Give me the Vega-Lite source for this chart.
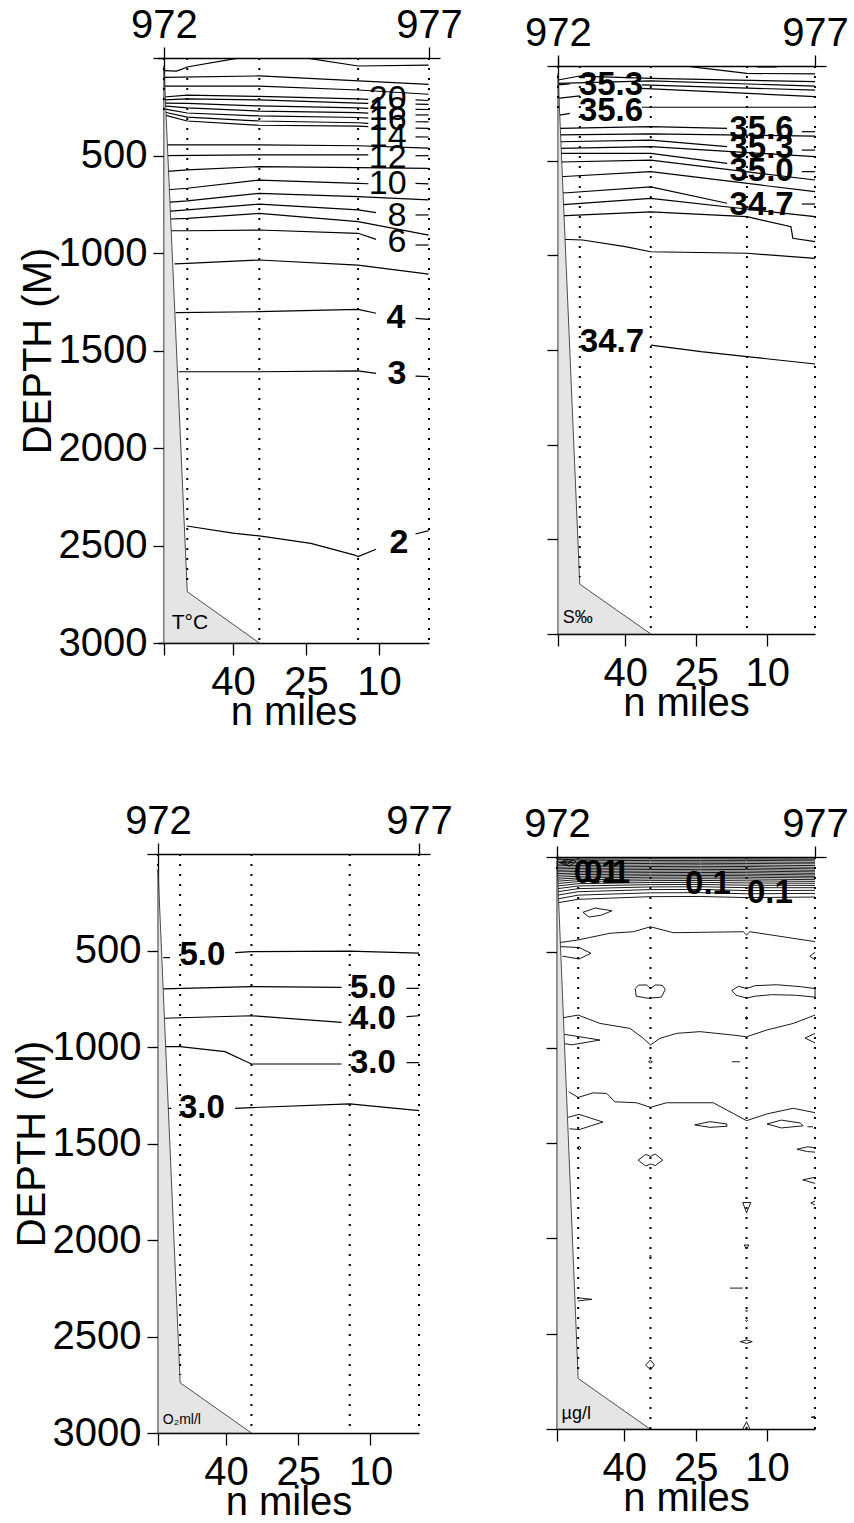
{
"$schema": "https://vega.github.io/schema/vega-lite/v6.json",
"autosize": {"type": "none"},
"padding": {"left": 158, "top": 58, "right": 696, "bottom": 1465},
"columns": 2,
"bounds": "flush",
"align": "each",
"spacing": {"row": 211, "column": 128},
"config": {
 "view": {"stroke": null},
 "font": "Liberation Sans",
 "axis": {"labelFont": "Liberation Sans", "labelFontSize": 40, "labelColor": "#000", "titleFont": "Liberation Sans", "titleFontSize": 40, "titleFontWeight": "normal", "titleColor": "#000", "tickColor": "#000", "tickSize": 11, "tickWidth": 1.3, "domainColor": "#000", "domainWidth": 1.3, "grid": false, "labelFlush": false, "labelOverlap": false, "zindex": 1},
 "text": {"font": "Liberation Sans", "fill": "#000"}
},
"datasets": {
"bt": [
{"p":"T","z":40,"l":54.2,"r":54.2},{"p":"T","z":2737,"l":54.2,"r":49.4},{"p":"T","z":3000,"l":54.2,"r":34.6},
{"p":"S","z":40,"l":54.2,"r":54.2},{"p":"S","z":2737,"l":54.2,"r":49.6},{"p":"S","z":3000,"l":54.2,"r":34.6},
{"p":"O","z":80,"l":54.1,"r":54.1},{"p":"O","z":2740,"l":54.1,"r":49.5},{"p":"O","z":3000,"l":54.1,"r":34.7},
{"p":"C","z":20,"l":54.15,"r":54.15},{"p":"C","z":2735,"l":54.15,"r":49.7},{"p":"C","z":3000,"l":54.15,"r":34.6}
],
"st": [
{"p":"T","d":54.2,"a":0,"b":300},{"p":"T","d":49.4,"a":0,"b":2700},{"p":"T","d":34.6,"a":0,"b":3000},{"p":"T","d":14.3,"a":0,"b":3000},{"p":"T","d":-0.27,"a":0,"b":3000},
{"p":"S","d":54.2,"a":0,"b":250},{"p":"S","d":49.6,"a":0,"b":2700},{"p":"S","d":34.6,"a":0,"b":3000},{"p":"S","d":14.3,"a":0,"b":3000},{"p":"S","d":-0.08,"a":0,"b":3000},
{"p":"O","d":54.1,"a":0,"b":80},{"p":"O","d":49.5,"a":0,"b":2700},{"p":"O","d":34.7,"a":0,"b":3000},{"p":"O","d":14.3,"a":0,"b":3000},{"p":"O","d":-0.08,"a":0,"b":3000},
{"p":"C","d":54.15,"a":0,"b":100},{"p":"C","d":49.7,"a":0,"b":2700},{"p":"C","d":34.5,"a":0,"b":3000},{"p":"C","d":14.3,"a":0,"b":3000},{"p":"C","d":-0.09,"a":0,"b":3000}
],
"tg": [
{"p":"T","t":"T°C","d":52.6,"z":2897},{"p":"S","t":"S‰","d":53.2,"z":2913},{"p":"O","t":"O₂ml/l","d":53.1,"z":2932},{"p":"C","t":"µg/l","d":53.2,"z":2921}
],
"lb": [
{"p":"T","t":"20","d":8.2,"z":210},{"p":"T","t":"18","d":8.2,"z":267},{"p":"T","t":"16","d":8.2,"z":318},{"p":"T","t":"14","d":8.2,"z":405},{"p":"T","t":"12","d":8.2,"z":513},{"p":"T","t":"10","d":8.2,"z":646},{"p":"T","t":"8","d":6.3,"z":810},{"p":"T","t":"6","d":6.3,"z":944},{"p":"T","t":"4","d":6.5,"z":1331},{"p":"T","t":"3","d":6.3,"z":1623},{"p":"T","t":"2","d":5.9,"z":2487},
{"p":"S","t":"35.3","d":43.0,"z":100},{"p":"S","t":"35.6","d":43.0,"z":238},{"p":"S","t":"35.6","d":11.2,"z":333},{"p":"S","t":"35.3","d":11.2,"z":433},{"p":"S","t":"35.0","d":11.2,"z":555},{"p":"S","t":"34.7","d":11.2,"z":734},{"p":"S","t":"34.7","d":42.8,"z":1460},
{"p":"O","t":"5.0","d":44.9,"z":523},{"p":"O","t":"5.0","d":9.5,"z":694},{"p":"O","t":"4.0","d":9.5,"z":855},{"p":"O","t":"3.0","d":9.5,"z":1083},{"p":"O","t":"3.0","d":45.0,"z":1316},
{"p":"C","t":"0.1","d":45.8,"z":86},{"p":"C","t":"0.1","d":43.6,"z":86},{"p":"C","t":"0.1","d":22.4,"z":142},{"p":"C","t":"0.1","d":9.4,"z":189}
],
"lines": [
{"p":"T","id":"a","d":54.2,"z":65},{"p":"T","id":"a","d":51.6,"z":67},{"p":"T","id":"a","d":49.2,"z":45},{"p":"T","id":"a","d":39.2,"z":2},
{"p":"T","id":"b","d":24.5,"z":2},{"p":"T","id":"b","d":14.3,"z":41},{"p":"T","id":"b","d":-0.2,"z":37},
{"p":"T","id":"c","d":54.2,"z":99},{"p":"T","id":"c","d":34.6,"z":92},{"p":"T","id":"c","d":-0.2,"z":135},
{"p":"T","id":"e","d":54.2,"z":144},{"p":"T","id":"e","d":34.6,"z":144},{"p":"T","id":"e","d":14.3,"z":164},{"p":"T","id":"e","d":-0.2,"z":186},
{"p":"T","id":"f1","d":54.2,"z":200},{"p":"T","id":"f1","d":49.4,"z":190},{"p":"T","id":"f1","d":34.6,"z":197},{"p":"T","id":"f1","d":14.3,"z":210},{"p":"T","id":"f1","d":12.2,"z":212},
{"p":"T","id":"f2","d":2.5,"z":215},{"p":"T","id":"f2","d":-0.2,"z":218},
{"p":"T","id":"g1","d":54.2,"z":215},{"p":"T","id":"g1","d":49.4,"z":210},{"p":"T","id":"g1","d":34.6,"z":215},{"p":"T","id":"g1","d":14.3,"z":231},{"p":"T","id":"g1","d":12.2,"z":233},
{"p":"T","id":"g2","d":2.5,"z":237},{"p":"T","id":"g2","d":-0.2,"z":238},
{"p":"T","id":"h1","d":54.2,"z":231},{"p":"T","id":"h1","d":49.4,"z":233},{"p":"T","id":"h1","d":34.6,"z":246},{"p":"T","id":"h1","d":14.3,"z":256},{"p":"T","id":"h1","d":12.2,"z":258},
{"p":"T","id":"h2","d":2.5,"z":263},{"p":"T","id":"h2","d":-0.2,"z":264},
{"p":"T","id":"i1","d":54.2,"z":246},{"p":"T","id":"i1","d":49.4,"z":256},{"p":"T","id":"i1","d":34.6,"z":272},{"p":"T","id":"i1","d":14.3,"z":280},{"p":"T","id":"i1","d":12.2,"z":283},
{"p":"T","id":"i2","d":2.5,"z":292},{"p":"T","id":"i2","d":-0.2,"z":292},
{"p":"T","id":"j1","d":54.2,"z":261},{"p":"T","id":"j1","d":49.4,"z":282},{"p":"T","id":"j1","d":34.6,"z":297},{"p":"T","id":"j1","d":14.3,"z":305},{"p":"T","id":"j1","d":12.2,"z":308},
{"p":"T","id":"j2","d":2.5,"z":327},{"p":"T","id":"j2","d":-0.2,"z":328},
{"p":"T","id":"k1","d":54.2,"z":277},{"p":"T","id":"k1","d":49.4,"z":303},{"p":"T","id":"k1","d":34.6,"z":323},{"p":"T","id":"k1","d":14.3,"z":332},{"p":"T","id":"k1","d":12.2,"z":335},
{"p":"T","id":"k2","d":2.5,"z":360},{"p":"T","id":"k2","d":-0.2,"z":361},
{"p":"T","id":"l1","d":54.2,"z":292},{"p":"T","id":"l1","d":49.4,"z":323},{"p":"T","id":"l1","d":34.6,"z":345},{"p":"T","id":"l1","d":14.3,"z":349},{"p":"T","id":"l1","d":12.2,"z":352},
{"p":"T","id":"l2","d":2.5,"z":404},{"p":"T","id":"l2","d":-0.2,"z":405},
{"p":"T","id":"m","d":54.2,"z":446},{"p":"T","id":"m","d":34.6,"z":446},{"p":"T","id":"m","d":14.3,"z":450},{"p":"T","id":"m","d":-0.2,"z":462},
{"p":"T","id":"n1","d":54.2,"z":501},{"p":"T","id":"n1","d":34.6,"z":497},{"p":"T","id":"n1","d":14.3,"z":497},{"p":"T","id":"n1","d":12.2,"z":497},
{"p":"T","id":"n2","d":2.5,"z":501},{"p":"T","id":"n2","d":-0.2,"z":501},
{"p":"T","id":"q","d":54.2,"z":583},{"p":"T","id":"q","d":49.4,"z":574},{"p":"T","id":"q","d":34.6,"z":557},{"p":"T","id":"q","d":14.3,"z":562},{"p":"T","id":"q","d":-0.2,"z":566},
{"p":"T","id":"r1","d":54.2,"z":677},{"p":"T","id":"r1","d":49.4,"z":668},{"p":"T","id":"r1","d":34.6,"z":626},{"p":"T","id":"r1","d":14.3,"z":643},{"p":"T","id":"r1","d":12.2,"z":645},
{"p":"T","id":"r2","d":2.5,"z":643},{"p":"T","id":"r2","d":-0.2,"z":646},
{"p":"T","id":"s","d":54.2,"z":742},{"p":"T","id":"s","d":49.4,"z":733},{"p":"T","id":"s","d":34.6,"z":694},{"p":"T","id":"s","d":14.3,"z":711},{"p":"T","id":"s","d":-0.2,"z":728},
{"p":"T","id":"u1","d":54.2,"z":788},{"p":"T","id":"u1","d":49.4,"z":779},{"p":"T","id":"u1","d":34.6,"z":749},{"p":"T","id":"u1","d":14.3,"z":779},{"p":"T","id":"u1","d":10.6,"z":793},
{"p":"T","id":"u2","d":2.5,"z":805},{"p":"T","id":"u2","d":-0.2,"z":805},
{"p":"T","id":"v","d":54.2,"z":827},{"p":"T","id":"v","d":49.4,"z":822},{"p":"T","id":"v","d":34.6,"z":797},{"p":"T","id":"v","d":14.3,"z":839},{"p":"T","id":"v","d":-0.2,"z":908},
{"p":"T","id":"w1","d":53.5,"z":886},{"p":"T","id":"w1","d":49.4,"z":886},{"p":"T","id":"w1","d":34.6,"z":882},{"p":"T","id":"w1","d":14.3,"z":899},{"p":"T","id":"w1","d":10.6,"z":930},
{"p":"T","id":"w2","d":2.5,"z":959},{"p":"T","id":"w2","d":-0.2,"z":959},
{"p":"T","id":"x","d":52.0,"z":1056},{"p":"T","id":"x","d":49.4,"z":1053},{"p":"T","id":"x","d":34.6,"z":1036},{"p":"T","id":"x","d":14.3,"z":1062},{"p":"T","id":"x","d":-0.2,"z":1108},
{"p":"T","id":"y1","d":51.8,"z":1306},{"p":"T","id":"y1","d":34.6,"z":1301},{"p":"T","id":"y1","d":14.3,"z":1289},{"p":"T","id":"y1","d":10.6,"z":1309},
{"p":"T","id":"y2","d":2.5,"z":1335},{"p":"T","id":"y2","d":-0.2,"z":1340},
{"p":"T","id":"z1","d":51.2,"z":1609},{"p":"T","id":"z1","d":34.6,"z":1609},{"p":"T","id":"z1","d":14.3,"z":1605},{"p":"T","id":"z1","d":10.6,"z":1617},
{"p":"T","id":"z2","d":2.5,"z":1631},{"p":"T","id":"z2","d":-0.2,"z":1634},
{"p":"T","id":"aa1","d":49.5,"z":2400},{"p":"T","id":"aa1","d":40,"z":2437},{"p":"T","id":"aa1","d":34.6,"z":2451},{"p":"T","id":"aa1","d":24,"z":2489},{"p":"T","id":"aa1","d":15,"z":2549},{"p":"T","id":"aa1","d":14.3,"z":2557},{"p":"T","id":"aa1","d":10.6,"z":2519},
{"p":"T","id":"aa2","d":2.5,"z":2441},{"p":"T","id":"aa2","d":-0.2,"z":2424},

{"p":"S","id":"sa","d":26.3,"z":3},{"p":"S","id":"sa","d":14.3,"z":39},{"p":"S","id":"sa","d":-0.1,"z":42},
{"p":"S","id":"sb","d":12.2,"z":5},{"p":"S","id":"sb","d":8.0,"z":5},
{"p":"S","id":"sc","d":54.2,"z":74},{"p":"S","id":"sc","d":49.6,"z":53},{"p":"S","id":"sc","d":34.6,"z":65},{"p":"S","id":"sc","d":-0.1,"z":83},
{"p":"S","id":"sd","d":54.2,"z":92},{"p":"S","id":"sd","d":34.6,"z":79},{"p":"S","id":"sd","d":-0.1,"z":106},
{"p":"S","id":"se1","d":54.2,"z":100},{"p":"S","id":"se1","d":51.7,"z":95},
{"p":"S","id":"se2","d":36.5,"z":100},{"p":"S","id":"se2","d":-0.1,"z":127},
{"p":"S","id":"sf1","d":54.2,"z":171},{"p":"S","id":"sf1","d":49.6,"z":158},
{"p":"S","id":"sf2","d":36.5,"z":118},{"p":"S","id":"sf2","d":-0.1,"z":162},
{"p":"S","id":"sg1","d":53.8,"z":259},{"p":"S","id":"sg1","d":51.7,"z":250},
{"p":"S","id":"sg2","d":36.5,"z":218},{"p":"S","id":"sg2","d":-0.1,"z":218},
{"p":"S","id":"sh1","d":53.8,"z":329},{"p":"S","id":"sh1","d":34.6,"z":320},{"p":"S","id":"sh1","d":18.5,"z":329},
{"p":"S","id":"sh2","d":2.7,"z":347},{"p":"S","id":"sh2","d":-0.1,"z":347},
{"p":"S","id":"si","d":53.8,"z":364},{"p":"S","id":"si","d":34.6,"z":359},{"p":"S","id":"si","d":-0.1,"z":370},
{"p":"S","id":"sj1","d":53.8,"z":400},{"p":"S","id":"sj1","d":34.6,"z":391},{"p":"S","id":"sj1","d":18.5,"z":426},
{"p":"S","id":"sj2","d":2.7,"z":444},{"p":"S","id":"sj2","d":-0.1,"z":444},
{"p":"S","id":"sk","d":53.8,"z":435},{"p":"S","id":"sk","d":34.6,"z":426},{"p":"S","id":"sk","d":-0.1,"z":479},
{"p":"S","id":"sl1","d":53.8,"z":461},{"p":"S","id":"sl1","d":34.6,"z":461},{"p":"S","id":"sl1","d":18.5,"z":514},
{"p":"S","id":"sl2","d":2.7,"z":558},{"p":"S","id":"sl2","d":-0.1,"z":558},
{"p":"S","id":"sm","d":53.8,"z":507},{"p":"S","id":"sm","d":34.6,"z":497},{"p":"S","id":"sm","d":-0.1,"z":602},
{"p":"S","id":"sn","d":53.8,"z":585},{"p":"S","id":"sn","d":34.6,"z":558},{"p":"S","id":"sn","d":-0.1,"z":664},
{"p":"S","id":"so1","d":53.8,"z":672},{"p":"S","id":"so1","d":34.6,"z":638},{"p":"S","id":"so1","d":18.5,"z":725},
{"p":"S","id":"so2","d":2.7,"z":729},{"p":"S","id":"so2","d":-0.1,"z":729},
{"p":"S","id":"sq","d":53.8,"z":734},{"p":"S","id":"sq","d":34.6,"z":699},{"p":"S","id":"sq","d":-0.1,"z":796},
{"p":"S","id":"sr","d":53.8,"z":792},{"p":"S","id":"sr","d":34.6,"z":770},{"p":"S","id":"sr","d":14.3,"z":796},{"p":"S","id":"sr","d":5.0,"z":849},{"p":"S","id":"sr","d":4.6,"z":910},{"p":"S","id":"sr","d":-0.1,"z":928},
{"p":"S","id":"ss","d":53.8,"z":915},{"p":"S","id":"ss","d":49.0,"z":919},{"p":"S","id":"ss","d":40.0,"z":954},{"p":"S","id":"ss","d":34.6,"z":981},{"p":"S","id":"ss","d":14.3,"z":989},{"p":"S","id":"ss","d":-0.1,"z":1016},
{"p":"S","id":"st","d":34.6,"z":1474},{"p":"S","id":"st","d":24,"z":1509},{"p":"S","id":"st","d":14.3,"z":1535},{"p":"S","id":"st","d":-0.1,"z":1574},

{"p":"O","id":"o5t","d":53.0,"z":537},{"p":"O","id":"o5t","d":51.6,"z":537},
{"p":"O","id":"o5a","d":38.1,"z":511},{"p":"O","id":"o5a","d":34.7,"z":506},{"p":"O","id":"o5a","d":14.3,"z":503},{"p":"O","id":"o5a","d":-0.1,"z":514},
{"p":"O","id":"o5b1","d":53.0,"z":699},{"p":"O","id":"o5b1","d":34.7,"z":687},{"p":"O","id":"o5b1","d":16.0,"z":691},
{"p":"O","id":"o5b2","d":2.5,"z":696},{"p":"O","id":"o5b2","d":-0.1,"z":696},
{"p":"O","id":"o41","d":52.9,"z":851},{"p":"O","id":"o41","d":34.7,"z":838},{"p":"O","id":"o41","d":16.0,"z":872},
{"p":"O","id":"o42","d":2.5,"z":843},{"p":"O","id":"o42","d":-0.1,"z":838},
{"p":"O","id":"o3a1","d":52.6,"z":998},{"p":"O","id":"o3a1","d":49.5,"z":998},{"p":"O","id":"o3a1","d":40.2,"z":1024},{"p":"O","id":"o3a1","d":34.7,"z":1088},{"p":"O","id":"o3a1","d":33.6,"z":1088},{"p":"O","id":"o3a1","d":16.0,"z":1088},
{"p":"O","id":"o3a2","d":2.5,"z":1081},{"p":"O","id":"o3a2","d":-0.1,"z":1081},
{"p":"O","id":"o3t","d":52.3,"z":1318},{"p":"O","id":"o3t","d":51.3,"z":1318},
{"p":"O","id":"o3b","d":38.1,"z":1318},{"p":"O","id":"o3b","d":34.7,"z":1314},{"p":"O","id":"o3b","d":14.3,"z":1295},{"p":"O","id":"o3b","d":-0.1,"z":1330},

{"p":"C","id":"b1","d":54.0,"z":6},{"p":"C","id":"b1","d":49.7,"z":5},{"p":"C","id":"b1","d":34.5,"z":4},{"p":"C","id":"b1","d":24,"z":4},{"p":"C","id":"b1","d":14.3,"z":5},{"p":"C","id":"b1","d":-0.1,"z":5},
{"p":"C","id":"b2","d":54.0,"z":14},{"p":"C","id":"b2","d":49.7,"z":12},{"p":"C","id":"b2","d":34.5,"z":10},{"p":"C","id":"b2","d":24,"z":10},{"p":"C","id":"b2","d":14.3,"z":11},{"p":"C","id":"b2","d":-0.1,"z":12},
{"p":"C","id":"b3","d":54.0,"z":22},{"p":"C","id":"b3","d":49.7,"z":20},{"p":"C","id":"b3","d":34.5,"z":18},{"p":"C","id":"b3","d":24,"z":18},{"p":"C","id":"b3","d":14.3,"z":18},{"p":"C","id":"b3","d":-0.1,"z":20},
{"p":"C","id":"b4","d":54.0,"z":30},{"p":"C","id":"b4","d":49.7,"z":28},{"p":"C","id":"b4","d":34.5,"z":26},{"p":"C","id":"b4","d":24,"z":26},{"p":"C","id":"b4","d":14.3,"z":26},{"p":"C","id":"b4","d":-0.1,"z":28},
{"p":"C","id":"b5","d":54.0,"z":38},{"p":"C","id":"b5","d":49.7,"z":36},{"p":"C","id":"b5","d":34.5,"z":34},{"p":"C","id":"b5","d":24,"z":33},{"p":"C","id":"b5","d":14.3,"z":34},{"p":"C","id":"b5","d":-0.1,"z":36},
{"p":"C","id":"b6","d":54.0,"z":46},{"p":"C","id":"b6","d":49.7,"z":44},{"p":"C","id":"b6","d":34.5,"z":42},{"p":"C","id":"b6","d":24,"z":41},{"p":"C","id":"b6","d":14.3,"z":42},{"p":"C","id":"b6","d":-0.1,"z":45},
{"p":"C","id":"b7","d":54.0,"z":54},{"p":"C","id":"b7","d":49.7,"z":52},{"p":"C","id":"b7","d":34.5,"z":50},{"p":"C","id":"b7","d":24,"z":49},{"p":"C","id":"b7","d":14.3,"z":50},{"p":"C","id":"b7","d":-0.1,"z":54},
{"p":"C","id":"b8","d":54.0,"z":62},{"p":"C","id":"b8","d":49.7,"z":60},{"p":"C","id":"b8","d":34.5,"z":58},{"p":"C","id":"b8","d":24,"z":57},{"p":"C","id":"b8","d":14.3,"z":58},{"p":"C","id":"b8","d":-0.1,"z":62},
{"p":"C","id":"b9","d":54.0,"z":70},{"p":"C","id":"b9","d":49.7,"z":68},{"p":"C","id":"b9","d":34.5,"z":66},{"p":"C","id":"b9","d":24,"z":65},{"p":"C","id":"b9","d":14.3,"z":66},{"p":"C","id":"b9","d":-0.1,"z":70},
{"p":"C","id":"b10","d":54.0,"z":78},{"p":"C","id":"b10","d":49.7,"z":76},{"p":"C","id":"b10","d":34.5,"z":74},{"p":"C","id":"b10","d":24,"z":73},{"p":"C","id":"b10","d":14.3,"z":74},{"p":"C","id":"b10","d":-0.1,"z":78},
{"p":"C","id":"b11","d":54.0,"z":87},{"p":"C","id":"b11","d":49.7,"z":84},{"p":"C","id":"b11","d":34.5,"z":82},{"p":"C","id":"b11","d":24,"z":81},{"p":"C","id":"b11","d":14.3,"z":82},{"p":"C","id":"b11","d":-0.1,"z":86},
{"p":"C","id":"b12","d":54.0,"z":96},{"p":"C","id":"b12","d":49.7,"z":92},{"p":"C","id":"b12","d":34.5,"z":90},{"p":"C","id":"b12","d":24,"z":89},{"p":"C","id":"b12","d":14.3,"z":90},{"p":"C","id":"b12","d":-0.1,"z":94},
{"p":"C","id":"b13","d":54.0,"z":106},{"p":"C","id":"b13","d":49.7,"z":101},{"p":"C","id":"b13","d":34.5,"z":98},{"p":"C","id":"b13","d":24,"z":97},{"p":"C","id":"b13","d":14.3,"z":98},{"p":"C","id":"b13","d":-0.1,"z":102},
{"p":"C","id":"b14","d":54.0,"z":116},{"p":"C","id":"b14","d":49.7,"z":110},{"p":"C","id":"b14","d":34.5,"z":106},{"p":"C","id":"b14","d":24,"z":105},{"p":"C","id":"b14","d":14.3,"z":106},{"p":"C","id":"b14","d":-0.1,"z":110},
{"p":"C","id":"b15","d":54.0,"z":127},{"p":"C","id":"b15","d":49.7,"z":119},{"p":"C","id":"b15","d":34.5,"z":115},{"p":"C","id":"b15","d":24,"z":114},{"p":"C","id":"b15","d":14.3,"z":115},{"p":"C","id":"b15","d":-0.1,"z":119},
{"p":"C","id":"b16","d":54.0,"z":139},{"p":"C","id":"b16","d":49.7,"z":129},{"p":"C","id":"b16","d":34.5,"z":124},{"p":"C","id":"b16","d":24,"z":123},{"p":"C","id":"b16","d":14.3,"z":125},{"p":"C","id":"b16","d":-0.1,"z":128},
{"p":"C","id":"b17","d":54.0,"z":152},{"p":"C","id":"b17","d":49.7,"z":140},{"p":"C","id":"b17","d":34.5,"z":134},{"p":"C","id":"b17","d":24,"z":133},{"p":"C","id":"b17","d":14.3,"z":136},{"p":"C","id":"b17","d":-0.1,"z":138},
{"p":"C","id":"b18","d":54.0,"z":166},{"p":"C","id":"b18","d":49.7,"z":152},{"p":"C","id":"b18","d":34.5,"z":145},{"p":"C","id":"b18","d":24,"z":144},{"p":"C","id":"b18","d":14.3,"z":148},{"p":"C","id":"b18","d":-0.1,"z":149},
{"p":"C","id":"b19","d":54.0,"z":182},{"p":"C","id":"b19","d":49.7,"z":166},{"p":"C","id":"b19","d":34.5,"z":157},{"p":"C","id":"b19","d":24,"z":156},{"p":"C","id":"b19","d":14.3,"z":161},{"p":"C","id":"b19","d":-0.1,"z":161},
{"p":"C","id":"b20","d":54.0,"z":200},{"p":"C","id":"b20","d":49.7,"z":182},{"p":"C","id":"b20","d":34.5,"z":171},{"p":"C","id":"b20","d":24,"z":170},{"p":"C","id":"b20","d":14.3,"z":176},{"p":"C","id":"b20","d":-0.1,"z":175},
{"p":"C","id":"b21","d":54.0,"z":220},{"p":"C","id":"b21","d":49.7,"z":200},{"p":"C","id":"b21","d":34.5,"z":188},{"p":"C","id":"b21","d":24,"z":187},{"p":"C","id":"b21","d":14.3,"z":193},{"p":"C","id":"b21","d":-0.1,"z":191},
{"p":"C","id":"b22","d":54.0,"z":240},{"p":"C","id":"b22","d":49.7,"z":222},{"p":"C","id":"b22","d":34.5,"z":208},{"p":"C","id":"b22","d":24,"z":207},{"p":"C","id":"b22","d":14.3,"z":213},{"p":"C","id":"b22","d":-0.1,"z":210},
{"p":"C","id":"sw1","d":53.6,"z":30},{"p":"C","id":"sw1","d":52.0,"z":12},{"p":"C","id":"sw1","d":50.2,"z":22},{"p":"C","id":"sw1","d":51.5,"z":48},{"p":"C","id":"sw1","d":53.6,"z":30},
{"p":"C","id":"sw2","d":53.0,"z":28},{"p":"C","id":"sw2","d":52.0,"z":20},{"p":"C","id":"sw2","d":51.0,"z":26},{"p":"C","id":"sw2","d":52.0,"z":38},{"p":"C","id":"sw2","d":53.0,"z":28},
{"p":"C","id":"cl1","d":48.7,"z":290},{"p":"C","id":"cl1","d":46.1,"z":268},{"p":"C","id":"cl1","d":42.6,"z":282},{"p":"C","id":"cl1","d":44.8,"z":305},{"p":"C","id":"cl1","d":47.4,"z":315},{"p":"C","id":"cl1","d":48.7,"z":290},
{"p":"C","id":"cw","d":53.6,"z":449},{"p":"C","id":"cw","d":49.7,"z":435},{"p":"C","id":"cw","d":43.0,"z":400},{"p":"C","id":"cw","d":38.1,"z":392},{"p":"C","id":"cw","d":34.5,"z":366},{"p":"C","id":"cw","d":29.7,"z":397},{"p":"C","id":"cw","d":15.0,"z":392},{"p":"C","id":"cw","d":14.3,"z":409},{"p":"C","id":"cw","d":13.6,"z":392},{"p":"C","id":"cw","d":-0.1,"z":444},
{"p":"C","id":"cll","d":53.3,"z":470},{"p":"C","id":"cll","d":49.5,"z":475},{"p":"C","id":"cll","d":47.0,"z":505},{"p":"C","id":"cll","d":49.5,"z":535},{"p":"C","id":"cll","d":53.0,"z":520},
{"p":"C","id":"crn","d":-0.1,"z":500},{"p":"C","id":"crn","d":1.0,"z":520},{"p":"C","id":"crn","d":-0.1,"z":540},
{"p":"C","id":"cb3","d":37.7,"z":690},{"p":"C","id":"cb3","d":37.0,"z":672},{"p":"C","id":"cb3","d":35.3,"z":671},{"p":"C","id":"cb3","d":34.5,"z":690},{"p":"C","id":"cb3","d":33.5,"z":671},{"p":"C","id":"cb3","d":32.0,"z":673},{"p":"C","id":"cb3","d":31.4,"z":695},{"p":"C","id":"cb3","d":32.2,"z":735},{"p":"C","id":"cb3","d":35.0,"z":741},{"p":"C","id":"cb3","d":37.5,"z":730},{"p":"C","id":"cb3","d":37.7,"z":690},
{"p":"C","id":"cb4","d":17.4,"z":700},{"p":"C","id":"cb4","d":16.0,"z":678},{"p":"C","id":"cb4","d":14.3,"z":690},{"p":"C","id":"cb4","d":12.5,"z":675},{"p":"C","id":"cb4","d":8.0,"z":670},{"p":"C","id":"cb4","d":3.0,"z":680},{"p":"C","id":"cb4","d":-0.1,"z":690},{"p":"C","id":"cb4","d":-0.1,"z":735},{"p":"C","id":"cb4","d":4.0,"z":725},{"p":"C","id":"cb4","d":9.0,"z":722},{"p":"C","id":"cb4","d":12.5,"z":730},{"p":"C","id":"cb4","d":14.3,"z":740},{"p":"C","id":"cb4","d":16.5,"z":725},{"p":"C","id":"cb4","d":17.4,"z":700},
{"p":"C","id":"cd1","d":14.6,"z":845},{"p":"C","id":"cd1","d":14.3,"z":838},{"p":"C","id":"cd1","d":14.0,"z":845},{"p":"C","id":"cd1","d":14.3,"z":852},{"p":"C","id":"cd1","d":14.6,"z":845},
{"p":"C","id":"cw2","d":53.6,"z":846},{"p":"C","id":"cw2","d":49.7,"z":829},{"p":"C","id":"cw2","d":45.1,"z":873},{"p":"C","id":"cw2","d":38.8,"z":899},{"p":"C","id":"cw2","d":36.0,"z":951},{"p":"C","id":"cw2","d":34.5,"z":986},{"p":"C","id":"cw2","d":32.5,"z":951},{"p":"C","id":"cw2","d":29.0,"z":925},{"p":"C","id":"cw2","d":24.1,"z":916},{"p":"C","id":"cw2","d":17.1,"z":934},{"p":"C","id":"cw2","d":14.3,"z":943},{"p":"C","id":"cw2","d":10.1,"z":908},{"p":"C","id":"cw2","d":4.5,"z":873},{"p":"C","id":"cw2","d":-0.1,"z":829},
{"p":"C","id":"cwl","d":53.9,"z":925},{"p":"C","id":"cwl","d":45.1,"z":960},{"p":"C","id":"cwl","d":51.0,"z":985},{"p":"C","id":"cwl","d":53.9,"z":975},
{"p":"C","id":"cwr","d":-0.1,"z":925},{"p":"C","id":"cwr","d":2.0,"z":950},{"p":"C","id":"cwr","d":-0.1,"z":975},
{"p":"C","id":"cd2","d":34.9,"z":1074},{"p":"C","id":"cd2","d":34.5,"z":1068},{"p":"C","id":"cd2","d":34.1,"z":1074},{"p":"C","id":"cd2","d":34.5,"z":1080},{"p":"C","id":"cd2","d":34.9,"z":1074},
{"p":"C","id":"cds1","d":17.4,"z":1074},{"p":"C","id":"cds1","d":15.7,"z":1074},
{"p":"C","id":"cw3","d":51.7,"z":1231},{"p":"C","id":"cw3","d":49.7,"z":1261},{"p":"C","id":"cw3","d":46.6,"z":1237},{"p":"C","id":"cw3","d":43.7,"z":1240},{"p":"C","id":"cw3","d":42.0,"z":1284},{"p":"C","id":"cw3","d":37.4,"z":1289},{"p":"C","id":"cw3","d":34.5,"z":1313},{"p":"C","id":"cw3","d":31.1,"z":1289},{"p":"C","id":"cw3","d":21.3,"z":1289},{"p":"C","id":"cw3","d":17.1,"z":1345},{"p":"C","id":"cw3","d":14.3,"z":1383},{"p":"C","id":"cw3","d":10.1,"z":1348},{"p":"C","id":"cw3","d":4.5,"z":1318},{"p":"C","id":"cw3","d":-0.1,"z":1341},
{"p":"C","id":"cwl2","d":51.8,"z":1365},{"p":"C","id":"cwl2","d":49.5,"z":1350},{"p":"C","id":"cwl2","d":44.5,"z":1390},{"p":"C","id":"cwl2","d":49.5,"z":1430},{"p":"C","id":"cwl2","d":51.5,"z":1425},
{"p":"C","id":"cl2","d":25.2,"z":1405},{"p":"C","id":"cl2","d":22.0,"z":1388},{"p":"C","id":"cl2","d":18.5,"z":1400},{"p":"C","id":"cl2","d":18.4,"z":1412},{"p":"C","id":"cl2","d":22.0,"z":1418},{"p":"C","id":"cl2","d":25.2,"z":1405},
{"p":"C","id":"cl3","d":10.0,"z":1400},{"p":"C","id":"cl3","d":7.0,"z":1380},{"p":"C","id":"cl3","d":3.0,"z":1395},{"p":"C","id":"cl3","d":2.4,"z":1410},{"p":"C","id":"cl3","d":7.0,"z":1421},{"p":"C","id":"cl3","d":10.0,"z":1400},
{"p":"C","id":"cds2","d":1.5,"z":1415},{"p":"C","id":"cds2","d":0.3,"z":1415},
{"p":"C","id":"cd3","d":49.9,"z":1526},{"p":"C","id":"cd3","d":49.5,"z":1516},{"p":"C","id":"cd3","d":49.1,"z":1526},{"p":"C","id":"cd3","d":49.5,"z":1536},{"p":"C","id":"cd3","d":49.9,"z":1526},
{"p":"C","id":"ce4","d":37.1,"z":1590},{"p":"C","id":"ce4","d":35.5,"z":1560},{"p":"C","id":"ce4","d":34.5,"z":1570},{"p":"C","id":"ce4","d":33.5,"z":1558},{"p":"C","id":"ce4","d":31.9,"z":1590},{"p":"C","id":"ce4","d":33.5,"z":1618},{"p":"C","id":"ce4","d":34.5,"z":1610},{"p":"C","id":"ce4","d":35.5,"z":1620},{"p":"C","id":"ce4","d":37.1,"z":1590},
{"p":"C","id":"clr1","d":-0.1,"z":1525},{"p":"C","id":"clr1","d":1.5,"z":1520},{"p":"C","id":"clr1","d":3.7,"z":1533},{"p":"C","id":"clr1","d":1.5,"z":1545},{"p":"C","id":"clr1","d":-0.1,"z":1548},
{"p":"C","id":"clr2","d":-0.1,"z":1680},{"p":"C","id":"clr2","d":2.5,"z":1693},{"p":"C","id":"clr2","d":-0.1,"z":1712},
{"p":"C","id":"ct1","d":15.1,"z":1812},{"p":"C","id":"ct1","d":13.4,"z":1812},{"p":"C","id":"ct1","d":14.3,"z":1866},{"p":"C","id":"ct1","d":15.1,"z":1812},
{"p":"C","id":"csr","d":-0.1,"z":1805},{"p":"C","id":"csr","d":0.8,"z":1815},{"p":"C","id":"csr","d":-0.1,"z":1825},
{"p":"C","id":"ct2","d":14.8,"z":2035},{"p":"C","id":"ct2","d":13.8,"z":2035},{"p":"C","id":"ct2","d":14.3,"z":2056},{"p":"C","id":"ct2","d":14.8,"z":2035},
{"p":"C","id":"cd4","d":34.7,"z":2093},{"p":"C","id":"cd4","d":34.5,"z":2089},{"p":"C","id":"cd4","d":34.3,"z":2093},{"p":"C","id":"cd4","d":34.5,"z":2097},{"p":"C","id":"cd4","d":34.7,"z":2093},
{"p":"C","id":"cll2","d":49.7,"z":2312},{"p":"C","id":"cll2","d":46.8,"z":2320},{"p":"C","id":"cll2","d":49.7,"z":2328},
{"p":"C","id":"cds3","d":17.8,"z":2261},{"p":"C","id":"cds3","d":15.1,"z":2261},
{"p":"C","id":"ct3","d":14.5,"z":2380},{"p":"C","id":"ct3","d":14.3,"z":2375},{"p":"C","id":"ct3","d":14.1,"z":2380},{"p":"C","id":"ct3","d":14.3,"z":2385},{"p":"C","id":"ct3","d":14.5,"z":2380},
{"p":"C","id":"ct4","d":14.5,"z":2432},{"p":"C","id":"ct4","d":14.3,"z":2427},{"p":"C","id":"ct4","d":14.1,"z":2432},{"p":"C","id":"ct4","d":14.3,"z":2437},{"p":"C","id":"ct4","d":14.5,"z":2432},
{"p":"C","id":"cl5","d":15.6,"z":2542},{"p":"C","id":"cl5","d":14.3,"z":2533},{"p":"C","id":"cl5","d":13.1,"z":2542},{"p":"C","id":"cl5","d":14.3,"z":2551},{"p":"C","id":"cl5","d":15.6,"z":2542},
{"p":"C","id":"cd5","d":35.5,"z":2664},{"p":"C","id":"cd5","d":34.5,"z":2638},{"p":"C","id":"cd5","d":33.7,"z":2664},{"p":"C","id":"cd5","d":34.5,"z":2690},{"p":"C","id":"cd5","d":35.5,"z":2664},
{"p":"C","id":"ct5","d":15.1,"z":3000},{"p":"C","id":"ct5","d":14.3,"z":2962},{"p":"C","id":"ct5","d":13.6,"z":3000},
{"p":"C","id":"csr2","d":-0.1,"z":2933},{"p":"C","id":"csr2","d":0.7,"z":2938},{"p":"C","id":"csr2","d":-0.1,"z":2943}
]
},
"concat": [
{
 "width": 271, "height": 585,
 "resolve": {"axis": {"x": "independent", "y": "independent"}},
 "layer": [
  {"data": {"name": "lines"}, "transform": [{"filter": "datum.p == 'T'"}],
   "mark": {"type": "line", "stroke": "#000", "strokeWidth": 1.2},
   "encoding": {
    "x": {"field": "d", "type": "quantitative", "scale": {"domain": [55.41, -0.27], "nice": false, "zero": false}, "axis": null},
    "y": {"field": "z", "type": "quantitative", "scale": {"domain": [0, 3000], "reverse": true, "nice": false, "zero": false}, "axis": null},
    "detail": {"field": "id"}, "order": {"value": null}}},
  {"data": {"name": "bt"}, "transform": [{"filter": "datum.p == 'T'"}],
   "mark": {"type": "area", "orient": "horizontal", "fill": "#e5e5e5", "stroke": "#222", "strokeWidth": 0.8},
   "encoding": {
    "y": {"field": "z", "type": "quantitative", "scale": {"domain": [0, 3000], "reverse": true, "nice": false, "zero": false},
          "axis": {"orient": "left", "values": [0,500,1000,1500,2000,2500,3000], "format": "d", "labelExpr": "datum.value == 0 ? '' : datum.label", "title": "DEPTH (M)", "offset": -6, "labelPadding": 6, "titlePadding": 0}},
    "x": {"field": "l", "type": "quantitative", "stack": null, "scale": {"domain": [55.41, -0.27], "nice": false, "zero": false},
          "axis": {"orient": "bottom", "values": [54.2, 40, 25, 10], "format": "d", "labelExpr": "datum.value > 50 ? '' : datum.label", "title": "n miles", "tickSize": 12, "labelPadding": 7, "titlePadding": -10}},
    "x2": {"field": "r"}}},
  {"data": {"name": "st"}, "transform": [{"filter": "datum.p == 'T'"}],
   "mark": {"type": "rule", "stroke": "#000", "strokeWidth": 2, "strokeDash": [2, 8]},
   "encoding": {
    "x": {"field": "d", "type": "quantitative", "scale": {"domain": [55.41, -0.27], "nice": false, "zero": false},
          "axis": {"orient": "top", "values": [54.2, -0.27], "labelExpr": "datum.value > 20 ? '972' : '977'", "title": null, "labelPadding": 2}},
    "y": {"field": "a", "type": "quantitative", "scale": {"domain": [0, 3000], "reverse": true, "nice": false, "zero": false},
          "axis": {"orient": "right", "values": [0], "labels": false, "domain": false, "title": null}},
    "y2": {"field": "b"}}},
  {"data": {"name": "lb"}, "transform": [{"filter": "datum.p == 'T' && datum.t != '4' && datum.t != '3' && datum.t != '2'"}],
   "mark": {"type": "text", "fontSize": 34, "align": "center", "baseline": "middle"},
   "encoding": {
    "x": {"field": "d", "type": "quantitative", "scale": {"domain": [55.41, -0.27], "nice": false, "zero": false}, "axis": null},
    "y": {"field": "z", "type": "quantitative", "scale": {"domain": [0, 3000], "reverse": true, "nice": false, "zero": false}, "axis": null},
    "text": {"field": "t"}}},
  {"data": {"name": "lb"}, "transform": [{"filter": "datum.p == 'T' && (datum.t == '4' || datum.t == '3' || datum.t == '2')"}],
   "mark": {"type": "text", "fontSize": 34, "fontWeight": "bold", "align": "center", "baseline": "middle"},
   "encoding": {
    "x": {"field": "d", "type": "quantitative", "scale": {"domain": [55.41, -0.27], "nice": false, "zero": false}, "axis": null},
    "y": {"field": "z", "type": "quantitative", "scale": {"domain": [0, 3000], "reverse": true, "nice": false, "zero": false}, "axis": null},
    "text": {"field": "t"}}},
  {"data": {"name": "tg"}, "transform": [{"filter": "datum.p == 'T'"}],
   "mark": {"type": "text", "fontSize": 21, "align": "left", "baseline": "middle"},
   "encoding": {
    "x": {"field": "d", "type": "quantitative", "scale": {"domain": [55.41, -0.27], "nice": false, "zero": false}, "axis": null},
    "y": {"field": "z", "type": "quantitative", "scale": {"domain": [0, 3000], "reverse": true, "nice": false, "zero": false}, "axis": null},
    "text": {"field": "t"}}}
 ]
},
{
 "width": 258, "height": 576,
 "resolve": {"axis": {"x": "independent", "y": "independent"}},
 "layer": [
  {"data": {"name": "lines"}, "transform": [{"filter": "datum.p == 'S'"}],
   "mark": {"type": "line", "stroke": "#000", "strokeWidth": 1.2},
   "encoding": {
    "x": {"field": "d", "type": "quantitative", "scale": {"domain": [54.41, -0.08], "nice": false, "zero": false}, "axis": null},
    "y": {"field": "z", "type": "quantitative", "scale": {"domain": [-42.25, 3000], "reverse": true, "nice": false, "zero": false}, "axis": null},
    "detail": {"field": "id"}, "order": {"value": null}}},
  {"data": {"name": "bt"}, "transform": [{"filter": "datum.p == 'S'"}],
   "mark": {"type": "area", "orient": "horizontal", "fill": "#e5e5e5", "stroke": "#222", "strokeWidth": 0.8},
   "encoding": {
    "y": {"field": "z", "type": "quantitative", "scale": {"domain": [-42.25, 3000], "reverse": true, "nice": false, "zero": false},
          "axis": {"orient": "left", "values": [0,500,1000,1500,2000,2500,3000], "labels": false, "title": null, "offset": -1}},
    "x": {"field": "l", "type": "quantitative", "stack": null, "scale": {"domain": [54.41, -0.08], "nice": false, "zero": false},
          "axis": {"orient": "bottom", "values": [54.2, 40, 25, 10], "format": "d", "labelExpr": "datum.value > 50 ? '' : datum.label", "title": "n miles", "tickSize": 12, "labelPadding": 7, "titlePadding": -10}},
    "x2": {"field": "r"}}},
  {"data": {"name": "st"}, "transform": [{"filter": "datum.p == 'S'"}],
   "mark": {"type": "rule", "stroke": "#000", "strokeWidth": 2, "strokeDash": [2, 8]},
   "encoding": {
    "x": {"field": "d", "type": "quantitative", "scale": {"domain": [54.41, -0.08], "nice": false, "zero": false},
          "axis": {"orient": "top", "values": [54.2, -0.08], "labelExpr": "datum.value > 20 ? '972' : '977'", "title": null, "labelPadding": 2, "offset": -8}},
    "y": {"field": "a", "type": "quantitative", "scale": {"domain": [-42.25, 3000], "reverse": true, "nice": false, "zero": false},
          "axis": {"orient": "right", "values": [0], "labels": false, "domain": false, "title": null}},
    "y2": {"field": "b"}}},
  {"data": {"name": "lb"}, "transform": [{"filter": "datum.p == 'S'"}],
   "mark": {"type": "text", "fontSize": 33, "fontWeight": "bold", "align": "center", "baseline": "middle"},
   "encoding": {
    "x": {"field": "d", "type": "quantitative", "scale": {"domain": [54.41, -0.08], "nice": false, "zero": false}, "axis": null},
    "y": {"field": "z", "type": "quantitative", "scale": {"domain": [-42.25, 3000], "reverse": true, "nice": false, "zero": false}, "axis": null},
    "text": {"field": "t"}}},
  {"data": {"name": "tg"}, "transform": [{"filter": "datum.p == 'S'"}],
   "mark": {"type": "text", "fontSize": 18, "align": "left", "baseline": "middle"},
   "encoding": {
    "x": {"field": "d", "type": "quantitative", "scale": {"domain": [54.41, -0.08], "nice": false, "zero": false}, "axis": null},
    "y": {"field": "z", "type": "quantitative", "scale": {"domain": [-42.25, 3000], "reverse": true, "nice": false, "zero": false}, "axis": null},
    "text": {"field": "t"}}}
 ]
},
{
 "width": 261, "height": 579,
 "resolve": {"axis": {"x": "independent", "y": "independent"}},
 "layer": [
  {"data": {"name": "lines"}, "transform": [{"filter": "datum.p == 'O'"}],
   "mark": {"type": "line", "stroke": "#000", "strokeWidth": 1.2},
   "encoding": {
    "x": {"field": "d", "type": "quantitative", "scale": {"domain": [54.1, -0.08], "nice": false, "zero": false}, "axis": null},
    "y": {"field": "z", "type": "quantitative", "scale": {"domain": [0, 3000], "reverse": true, "nice": false, "zero": false}, "axis": null},
    "detail": {"field": "id"}, "order": {"value": null}}},
  {"data": {"name": "bt"}, "transform": [{"filter": "datum.p == 'O'"}],
   "mark": {"type": "area", "orient": "horizontal", "fill": "#e5e5e5", "stroke": "#222", "strokeWidth": 0.8},
   "encoding": {
    "y": {"field": "z", "type": "quantitative", "scale": {"domain": [0, 3000], "reverse": true, "nice": false, "zero": false},
          "axis": {"orient": "left", "values": [0,500,1000,1500,2000,2500,3000], "format": "d", "labelExpr": "datum.value == 0 ? '' : datum.label", "title": "DEPTH (M)", "labelPadding": 6, "titlePadding": 0}},
    "x": {"field": "l", "type": "quantitative", "stack": null, "scale": {"domain": [54.1, -0.08], "nice": false, "zero": false},
          "axis": {"orient": "bottom", "values": [54.1, 40, 25, 10], "format": "d", "labelExpr": "datum.value > 50 ? '' : datum.label", "title": "n miles", "tickSize": 12, "labelPadding": 7, "titlePadding": -10}},
    "x2": {"field": "r"}}},
  {"data": {"name": "st"}, "transform": [{"filter": "datum.p == 'O'"}],
   "mark": {"type": "rule", "stroke": "#000", "strokeWidth": 2, "strokeDash": [2, 8]},
   "encoding": {
    "x": {"field": "d", "type": "quantitative", "scale": {"domain": [54.1, -0.08], "nice": false, "zero": false},
          "axis": {"orient": "top", "values": [54.1, -0.08], "labelExpr": "datum.value > 20 ? '972' : '977'", "title": null, "labelPadding": 2}},
    "y": {"field": "a", "type": "quantitative", "scale": {"domain": [0, 3000], "reverse": true, "nice": false, "zero": false},
          "axis": {"orient": "right", "values": [0], "labels": false, "domain": false, "title": null}},
    "y2": {"field": "b"}}},
  {"data": {"name": "lb"}, "transform": [{"filter": "datum.p == 'O'"}],
   "mark": {"type": "text", "fontSize": 33, "fontWeight": "bold", "align": "center", "baseline": "middle"},
   "encoding": {
    "x": {"field": "d", "type": "quantitative", "scale": {"domain": [54.1, -0.08], "nice": false, "zero": false}, "axis": null},
    "y": {"field": "z", "type": "quantitative", "scale": {"domain": [0, 3000], "reverse": true, "nice": false, "zero": false}, "axis": null},
    "text": {"field": "t"}}},
  {"data": {"name": "tg"}, "transform": [{"filter": "datum.p == 'O'"}],
   "mark": {"type": "text", "fontSize": 14, "align": "left", "baseline": "middle"},
   "encoding": {
    "x": {"field": "d", "type": "quantitative", "scale": {"domain": [54.1, -0.08], "nice": false, "zero": false}, "axis": null},
    "y": {"field": "z", "type": "quantitative", "scale": {"domain": [0, 3000], "reverse": true, "nice": false, "zero": false}, "axis": null},
    "text": {"field": "t"}}}
 ]
},
{
 "width": 258, "height": 575,
 "resolve": {"axis": {"x": "independent", "y": "independent"}},
 "layer": [
  {"data": {"name": "lines"}, "transform": [{"filter": "datum.p == 'C'"}],
   "mark": {"type": "line", "stroke": "#000", "strokeWidth": 0.9},
   "encoding": {
    "x": {"field": "d", "type": "quantitative", "scale": {"domain": [54.15, -0.09], "nice": false, "zero": false}, "axis": null},
    "y": {"field": "z", "type": "quantitative", "scale": {"domain": [-15.7, 3000], "reverse": true, "nice": false, "zero": false}, "axis": null},
    "detail": {"field": "id"}, "order": {"value": null}}},
  {"data": {"name": "bt"}, "transform": [{"filter": "datum.p == 'C'"}],
   "mark": {"type": "area", "orient": "horizontal", "fill": "#e5e5e5", "stroke": "#222", "strokeWidth": 0.8},
   "encoding": {
    "y": {"field": "z", "type": "quantitative", "scale": {"domain": [-15.7, 3000], "reverse": true, "nice": false, "zero": false},
          "axis": {"orient": "left", "values": [0,500,1000,1500,2000,2500,3000], "labels": false, "title": null}},
    "x": {"field": "l", "type": "quantitative", "stack": null, "scale": {"domain": [54.15, -0.09], "nice": false, "zero": false},
          "axis": {"orient": "bottom", "values": [54.15, 40, 25, 10], "format": "d", "labelExpr": "datum.value > 50 ? '' : datum.label", "title": "n miles", "tickSize": 12, "labelPadding": 7, "titlePadding": -10}},
    "x2": {"field": "r"}}},
  {"data": {"name": "st"}, "transform": [{"filter": "datum.p == 'C'"}],
   "mark": {"type": "rule", "stroke": "#000", "strokeWidth": 2, "strokeDash": [2, 8]},
   "encoding": {
    "x": {"field": "d", "type": "quantitative", "scale": {"domain": [54.15, -0.09], "nice": false, "zero": false},
          "axis": {"orient": "top", "values": [54.15, -0.09], "labelExpr": "datum.value > 20 ? '972' : '977'", "title": null, "labelPadding": 2, "offset": -3}},
    "y": {"field": "a", "type": "quantitative", "scale": {"domain": [-15.7, 3000], "reverse": true, "nice": false, "zero": false},
          "axis": {"orient": "right", "values": [0], "labels": false, "domain": false, "title": null}},
    "y2": {"field": "b"}}},
  {"data": {"name": "lb"}, "transform": [{"filter": "datum.p == 'C'"}],
   "mark": {"type": "text", "fontSize": 33, "fontWeight": "bold", "align": "center", "baseline": "middle"},
   "encoding": {
    "x": {"field": "d", "type": "quantitative", "scale": {"domain": [54.15, -0.09], "nice": false, "zero": false}, "axis": null},
    "y": {"field": "z", "type": "quantitative", "scale": {"domain": [-15.7, 3000], "reverse": true, "nice": false, "zero": false}, "axis": null},
    "text": {"field": "t"}}},
  {"data": {"name": "tg"}, "transform": [{"filter": "datum.p == 'C'"}],
   "mark": {"type": "text", "fontSize": 18, "align": "left", "baseline": "middle"},
   "encoding": {
    "x": {"field": "d", "type": "quantitative", "scale": {"domain": [54.15, -0.09], "nice": false, "zero": false}, "axis": null},
    "y": {"field": "z", "type": "quantitative", "scale": {"domain": [-15.7, 3000], "reverse": true, "nice": false, "zero": false}, "axis": null},
    "text": {"field": "t"}}}
 ]
}
]
}
